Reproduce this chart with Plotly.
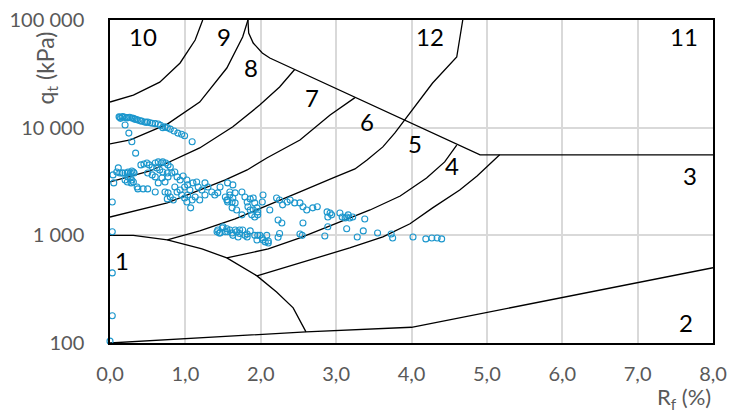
import numpy as np
import plotly.graph_objects as go

# --- zone boundaries (Rf in %, qt in kPa) ---
b2_rf = [0.0, 2.6, 4.0, 8.0]
b2_qt = [100, 127, 140, 500]

b1_rf = [0.0, 0.31, 0.76, 1.22, 1.55, 1.95, 2.21, 2.43, 2.6]
b1_qt = [1000, 1000, 906, 748, 617, 420, 298, 212, 127]

k1_rf = [0.0, 0.31, 0.66, 0.93, 1.13, 1.23]
k1_qt = [17300, 20100, 26500, 39900, 65200, 100000]

k2_rf = [0.0, 0.27, 0.76, 1.19, 1.55, 1.76, 1.83]
k2_qt = [7060, 7690, 10800, 17300, 35800, 69500, 100000]

k3_rf = [0.0, 0.53, 1.19, 1.63, 1.99, 2.25, 2.45]
k3_qt = [3130, 3960, 6480, 10200, 16300, 23900, 34700]

k4_rf = [0.0, 0.76, 1.53, 1.82, 2.08, 2.52, 2.92, 3.25]
k4_qt = [1480, 2000, 3270, 4050, 5230, 7690, 13100, 19000]

c3_rf = [0.76, 1.19, 1.66, 2.12, 2.52, 2.96, 3.25, 3.41, 3.62, 3.78, 3.89, 3.94, 4.28, 4.60, 4.68]
c3_qt = [906, 1100, 1420, 1920, 2530, 3410, 4140, 5010, 6630, 8930, 11300, 12600, 26000, 45300, 100000]

c2_rf = [1.55, 2.10, 2.52, 3.05, 3.45, 3.85, 4.20, 4.44, 4.60]
c2_qt = [617, 748, 946, 1330, 1720, 2320, 3410, 4810, 6900]

c1_rf = [1.95, 2.52, 3.18, 3.62, 3.98, 4.28, 4.64, 4.87, 5.04, 5.17]
c1_qt = [420, 555, 764, 966, 1280, 1800, 2640, 3560, 4600, 5600]

top_rf = [1.83, 1.84, 1.90, 2.02, 2.12, 4.91, 8.0]
top_qt = [100000, 75700, 61100, 49400, 44400, 5600, 5600]

boundaries = [(b2_rf, b2_qt), (b1_rf, b1_qt), (k1_rf, k1_qt), (k2_rf, k2_qt),
              (k3_rf, k3_qt), (k4_rf, k4_qt), (c3_rf, c3_qt), (c2_rf, c2_qt),
              (c1_rf, c1_qt), (top_rf, top_qt)]

# --- zone numbers ---
zone_names = ["10", "9", "8", "7", "6", "5", "4", "3", "12", "11", "1", "2"]
zone_rf = [0.44, 1.51, 1.87, 2.68, 3.41, 4.04, 4.54, 7.69, 4.24, 7.61, 0.16, 7.64]
zone_qt = [71000, 71000, 36600, 18900, 11500, 7060, 4500, 3570, 71000, 71000, 578, 154]

# --- CPT readings ---
cpt_rf = [
    0.12, 0.13, 0.14, 0.16, 0.17, 0.20, 0.22, 0.24, 0.26, 0.29, 0.31, 0.33, 0.35, 0.37,
    0.40, 0.42, 0.46, 0.48, 0.50, 0.53, 0.56, 0.60, 0.64, 0.67, 0.70, 0.73, 0.76, 0.80,
    0.85, 0.90, 0.95, 0.99, 1.09, 0.20, 0.25, 0.29, 0.34,
    0.03, 0.03, 0.03, 0.03, 0.00,
    0.04, 0.05, 0.09, 0.11, 0.13, 0.16, 0.17, 0.20, 0.23, 0.24, 0.27, 0.29, 0.31, 0.32,
    0.24, 0.27, 0.29, 0.31, 0.28, 0.36, 0.37, 0.44, 0.50, 0.60, 0.20, 0.23,
    0.41, 0.45, 0.49, 0.52, 0.56, 0.60, 0.64, 0.68, 0.70, 0.74, 0.77, 0.80, 0.62, 0.66,
    0.70, 0.76, 0.50, 0.56, 0.60, 0.64, 0.69, 0.73, 0.77, 0.82, 0.86, 0.89, 0.93, 0.97,
    1.02, 1.03, 0.99, 1.06, 1.10, 1.15, 1.17, 1.22, 1.26, 0.73, 0.77, 0.80, 0.84, 0.76,
    0.89, 0.93, 0.95, 0.99, 1.03, 1.09, 1.13, 1.19, 1.02, 1.07, 0.86, 1.26, 1.30, 1.35,
    1.39, 1.43, 1.46, 1.53, 1.56, 1.59, 1.56, 1.63, 1.62,
    1.63, 1.59, 1.66, 1.75, 1.55, 1.56, 1.66, 1.62, 1.68, 1.79, 1.82, 1.86, 1.90, 1.92,
    1.83, 1.86, 1.90, 1.95, 1.96, 1.92, 1.88, 1.96, 2.03, 2.02, 1.75, 2.12, 2.21, 2.25,
    2.29, 2.35, 2.39, 2.45, 2.23,
    2.52, 2.56, 2.61, 2.69, 2.75, 2.88, 2.92, 2.89, 2.94, 3.05, 3.08, 3.12, 3.14, 3.38,
    2.56, 2.89, 3.14, 2.85, 3.28, 3.36, 3.55, 3.73, 3.75, 4.02, 4.19, 4.27, 4.34, 4.40,
    3.16, 3.18, 3.22,
    1.43, 1.46, 1.49, 1.50, 1.53, 1.55, 1.56, 1.59, 1.62, 1.63, 1.66, 1.68, 1.70, 1.72,
    1.72, 1.76, 1.79, 1.82, 1.82, 1.86, 1.92, 1.95, 1.96, 1.99, 2.02, 2.03, 2.06, 2.08,
    2.10, 2.10, 2.23, 2.25, 2.28, 2.52, 2.55, 1.42, 1.45,
]
cpt_qt = [
    12600, 12500, 12200, 12500, 12700, 12500, 12300, 12400, 12500, 12300, 12200, 12000, 11900, 11800,
    11600, 11500, 11300, 11200, 11300, 11100, 11000, 10900, 10800, 10500, 10000, 10200, 10000, 9700,
    9300, 8900, 8700, 8400, 7400, 10600, 8900, 7400, 5800,
    2040, 1080, 448, 179, 104,
    3640, 3070, 3880, 4230, 3790, 3790, 3790, 3790, 3790, 3880, 3790, 3960, 3880, 3790,
    3490, 3410, 3270, 3130, 3070, 2810, 2700, 2700, 2700, 2530, 3270, 3130,
    4510, 4600, 4700, 4510, 4310, 4700, 4810, 4700, 4810, 4700, 4510, 4310, 4230, 4050,
    3880, 3790, 3790, 3640, 3490, 3070, 3410, 3130, 3490, 3790, 3880, 3490, 3270, 3560,
    3270, 2940, 2810, 2640, 3070, 3130, 2810, 2640, 3070, 2530, 2480, 2270, 2130, 2180,
    2530, 2640, 2370, 2220, 2370, 2130, 2270, 2130, 2040, 1800, 2810, 2370, 2810, 2530,
    2370, 2480, 2810, 2270, 2130, 2530, 3070, 2220, 2040,
    2940, 2370, 2480, 2530, 2130, 2040, 2000, 1800, 1720, 2270, 2040, 2180, 2220, 2000,
    1840, 1720, 1720, 1800, 1650, 1480, 1550, 1550, 2370, 2040, 1550, 1720, 2220, 2130,
    1920, 2040, 2130, 2000, 1390,
    2000, 1840, 1720, 1800, 1840, 1650, 1610, 1480, 1550, 1610, 1480, 1450, 1480, 1420,
    1300, 1200, 1150, 986, 966, 1100, 1050, 1030, 946, 966, 927, 946, 946, 927,
    1550, 1450, 1480,
    1120, 1050, 1170, 1200, 1080, 1150, 1080, 1120, 1050, 1000, 1120, 1080, 966, 1040,
    1120, 1120, 1000, 1030, 966, 1100, 1000, 906, 1000, 1000, 946, 906, 869, 1000,
    849, 887, 960, 1040, 1300, 1030, 1000, 1080, 1050,
]

x_ticks = [0, 1, 2, 3, 4, 5, 6, 7, 8]
x_labels = ["0,0", "1,0", "2,0", "3,0", "4,0", "5,0", "6,0", "7,0", "8,0"]
y_ticks = [100, 1000, 10000, 100000]
y_labels = ["100", "1 000", "10 000", "100 000"]

FONT = "Lato"
GREY = "#595959"

fig = go.Figure()

for rf, qt in boundaries:
    fig.add_trace(go.Scatter(x=rf, y=qt, mode="lines",
                             line=dict(color="black", width=1.3),
                             hoverinfo="skip"))

fig.add_trace(go.Scatter(x=cpt_rf, y=cpt_qt, mode="markers", cliponaxis=False,
                         marker=dict(symbol="circle-open", size=6, color="#1c97cd",
                                     line=dict(width=1.1, color="#1c97cd"))))

for name, rf, qt in zip(zone_names, zone_rf, zone_qt):
    fig.add_annotation(x=rf, y=np.log10(qt), text=name, showarrow=False,
                       font=dict(family=FONT, size=24, color="black"))

fig.add_annotation(xref="paper", yref="paper", x=1.0, y=-0.17, xanchor="right", yanchor="middle",
                   text="R<sub>f</sub> (%)", showarrow=False,
                   font=dict(family=FONT, size=22, color=GREY))
fig.add_annotation(xref="paper", yref="paper", x=-0.106, y=0.85, xanchor="center", yanchor="middle",
                   text="q<sub>t</sub> (kPa)", textangle=-90, showarrow=False,
                   font=dict(family=FONT, size=23, color=GREY))

fig.update_xaxes(range=[0, 8], tickvals=x_ticks, ticktext=x_labels, automargin=False,
                 showgrid=True, gridcolor="#d9d9d9", gridwidth=2, zeroline=False,
                 showline=True, linecolor="black", linewidth=1.5, mirror=True,
                 ticks="", ticklabelstandoff=12,
                 tickfont=dict(family=FONT, size=20, color=GREY))
fig.update_yaxes(type="log", range=[2, 5], tickvals=y_ticks, ticktext=y_labels, automargin=False,
                 showgrid=True, gridcolor="#d9d9d9", gridwidth=2, zeroline=False,
                 showline=True, linecolor="black", linewidth=1.5, mirror=True,
                 ticks="", ticklabelstandoff=20,
                 tickfont=dict(family=FONT, size=20, color=GREY))

fig.update_layout(width=731, height=416, showlegend=False,
                  margin=dict(l=110, r=18, t=20, b=73),
                  plot_bgcolor="white", paper_bgcolor="white")

# the page's default body margin would shift the chart by 8px
fig.write_html("out.html", config={"displayModeBar": False},
               post_script="document.body.style.margin='0';")
